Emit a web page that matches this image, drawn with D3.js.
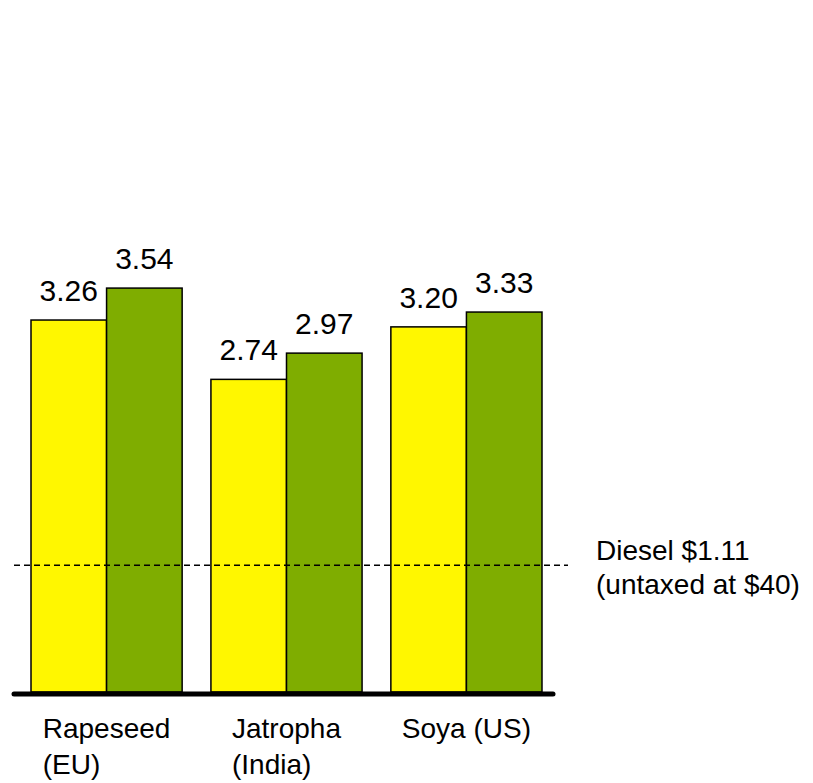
<!doctype html>
<html lang="en">
<head>
    <meta charset="UTF-8">
    <title>Biodiesel cost</title>
    <style>
      body { margin: 0; background: #fff; }
      text { font-family: "Liberation Sans", Arial, sans-serif; fill: #000; }
    </style>
</head>
<body>
<div class="container"></div>

<script src="https://d3js.org/d3.v7.min.js"></script>
<script>
  const SVG_WIDTH = 813;
  const SVG_HEIGHT = 783;

  // data
  const categories = [['Rapeseed', '(EU)'], ['Jatropha', '(India)'], ['Soya (US)']];
  const seriesNames = ['low', 'high'];
  const lowValues = [3.26, 2.74, 3.20];
  const highValues = [3.54, 2.97, 3.33];
  const dieselValue = 1.11;
  const dieselLabel = ['Diesel $1.11', '(untaxed at $40)'];

  const colors = { low: '#FFF700', high: '#7FAD00' };

  const svg = d3.select('.container')
    .append('svg')
    .attr('width', SVG_WIDTH)
    .attr('height', SVG_HEIGHT);

  const catKeys = categories.map(c => c.join(' '));

  const x = d3.scaleBand()
    .domain(catKeys)
    .range([31, 542])
    .paddingInner(0.16)
    .paddingOuter(0);

  const xSub = d3.scaleBand()
    .domain(seriesNames)
    .range([0, x.bandwidth()]);

  const y = d3.scaleLinear()
    .domain([0, 4])
    .range([692, 235.6]);

  const data = catKeys.map((k, i) => ({
    key: k,
    values: [
      { s: 'low', v: lowValues[i] },
      { s: 'high', v: highValues[i] }
    ]
  }));

  const groups = svg.selectAll('g.group')
    .data(data)
    .enter().append('g')
    .attr('class', 'group')
    .attr('transform', d => `translate(${x(d.key)}, 0)`);

  groups.selectAll('rect')
    .data(d => d.values)
    .enter().append('rect')
    .attr('x', d => xSub(d.s))
    .attr('y', d => y(d.v))
    .attr('width', xSub.bandwidth())
    .attr('height', d => y(0) - y(d.v))
    .attr('fill', d => colors[d.s])
    .attr('stroke', '#000')
    .attr('stroke-width', 1.5);

  groups.selectAll('text.val')
    .data(d => d.values)
    .enter().append('text')
    .attr('class', 'val')
    .attr('x', d => xSub(d.s) + xSub.bandwidth() / 2)
    .attr('y', d => y(d.v) - 19)
    .attr('text-anchor', 'middle')
    .style('font-size', '30px')
    .text(d => d.v.toFixed(2));

  // diesel reference line
  svg.append('line')
    .attr('x1', 14)
    .attr('x2', 568)
    .attr('y1', y(dieselValue))
    .attr('y2', y(dieselValue))
    .attr('stroke', '#000')
    .attr('stroke-width', 1.5)
    .attr('stroke-dasharray', '6,4');

  svg.append('text')
    .attr('x', 596)
    .attr('y', y(dieselValue) - 5)
    .style('font-size', '28px')
    .selectAll('tspan')
    .data(dieselLabel)
    .enter().append('tspan')
    .attr('x', 596)
    .attr('dy', (d, i) => i === 0 ? 0 : 34)
    .text(d => d);

  // baseline
  svg.append('line')
    .attr('x1', 14)
    .attr('x2', 553)
    .attr('y1', y(0) + 2)
    .attr('y2', y(0) + 2)
    .attr('stroke', '#000')
    .attr('stroke-width', 5)
    .attr('stroke-linecap', 'round');

  // category labels: left-aligned block centered on the band
  const labels = svg.selectAll('text.cat')
    .data(categories)
    .enter().append('text')
    .attr('class', 'cat')
    .attr('y', 738)
    .style('font-size', '28px');

  labels.each(function (lines, i) {
    const t = d3.select(this);
    lines.forEach((line, j) => {
      t.append('tspan')
        .attr('dy', j === 0 ? 0 : 36)
        .text(line);
    });
    const w = d3.max(t.selectAll('tspan').nodes(), n => n.getComputedTextLength());
    const left = x(catKeys[i]) + x.bandwidth() / 2 - w / 2;
    t.selectAll('tspan').attr('x', left);
  });
</script>
</body>
</html>
